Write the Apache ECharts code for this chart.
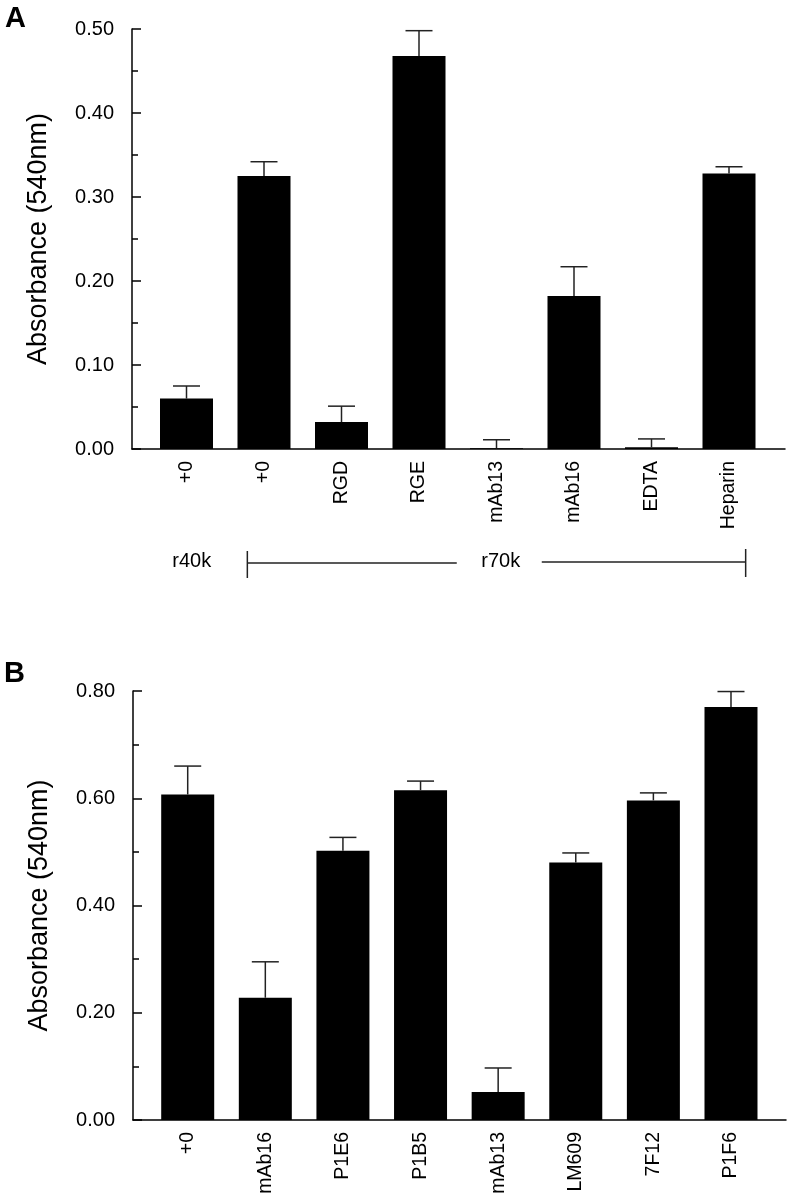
<!DOCTYPE html>
<html>
<head>
<meta charset="utf-8">
<script src="https://cdn.jsdelivr.net/npm/echarts@6/dist/echarts.min.js"></script>
<style>
html,body{margin:0;padding:0;background:#fff;}
#main{width:793px;height:1199px;}
</style>
</head>
<body>
<div id="main"></div>
<script>
// ---- Data ----
const categoriesA = ['+0', '+0', 'RGD', 'RGE', 'mAb13', 'mAb16', 'EDTA', 'Heparin'];
const meanA = [0.060, 0.325, 0.032, 0.468, 0.001, 0.182, 0.002, 0.328];
const errA  = [0.015, 0.017, 0.019, 0.030, 0.010, 0.035, 0.010, 0.008];

const categoriesB = ['+0', 'mAb16', 'P1E6', 'P1B5', 'mAb13', 'LM609', '7F12', 'P1F6'];
const meanB = [0.607, 0.228, 0.502, 0.615, 0.052, 0.480, 0.596, 0.770];
const errB  = [0.053, 0.067, 0.025, 0.017, 0.045, 0.018, 0.014, 0.029];

const yTicksA = {min: 0, max: 0.5, interval: 0.1};
const yTicksB = {min: 0, max: 0.8, interval: 0.2};
const yTitle = 'Absorbance (540nm)';
const groupLabels = ['r40k', 'r70k'];

// ---- Styles ----
const FONT = 'Liberation Sans';
const AXIS_COLOR = '#000';

function frameY(gridIndex, t) {
  return {
    type: 'value', gridIndex: gridIndex, min: t.min, max: t.max, interval: t.interval,
    name: yTitle, nameLocation: 'middle', nameRotate: 90, nameGap: 80,
    nameTextStyle: {fontFamily: FONT, fontSize: 27, color: '#000'},
    axisLine: {show: true, lineStyle: {color: AXIS_COLOR, width: 1.5}},
    axisTick: {show: true, inside: true, length: 9, lineStyle: {color: AXIS_COLOR, width: 1.5}},
    minorTick: {show: true, splitNumber: 2, length: 6, lineStyle: {color: AXIS_COLOR, width: 1.5}},
    axisLabel: {show: true, margin: 18, fontFamily: FONT, fontSize: 20, color: '#000',
      formatter: v => v.toFixed(2)},
    splitLine: {show: false}, minorSplitLine: {show: false}
  };
}
function hiddenY(gridIndex, t) {
  return {type: 'value', gridIndex: gridIndex, min: t.min, max: t.max, interval: t.interval,
    axisLine: {show: false}, axisTick: {show: false}, axisLabel: {show: false}, splitLine: {show: false}};
}
function frameX(gridIndex) {
  return {type: 'value', gridIndex: gridIndex, min: 0, max: 1,
    axisLine: {show: true, onZero: false, lineStyle: {color: AXIS_COLOR, width: 1.5}},
    axisTick: {show: false}, axisLabel: {show: false}, splitLine: {show: false}};
}
function catX(gridIndex, cats) {
  return {type: 'category', gridIndex: gridIndex, data: cats, boundaryGap: true,
    axisLine: {show: false}, axisTick: {show: false}, splitLine: {show: false},
    axisLabel: {interval: 0, rotate: 90, margin: 12, padding: [12, 0, 0, 0],
      fontFamily: FONT, fontSize: 19.5, color: '#000'}};
}
function barSeries(axisIdx, means) {
  return {type: 'bar', xAxisIndex: axisIdx, yAxisIndex: axisIdx, data: means,
    barWidth: 53, itemStyle: {color: '#000'}, silent: true, z: 2};
}
function errSeries(axisIdx, means, errs) {
  return {
    type: 'custom', xAxisIndex: axisIdx, yAxisIndex: axisIdx, z: 3, silent: true,
    data: means.map((m, i) => [i, m, m + errs[i]]),
    encode: {x: 0, y: [1, 2]},
    renderItem: function (params, api) {
      const i = api.value(0);
      const lo = api.coord([i, api.value(1)]);
      const hi = api.coord([i, api.value(2)]);
      const half = 13.5;
      const st = {stroke: '#222', lineWidth: 1.5};
      return {type: 'group', children: [
        {type: 'line', shape: {x1: lo[0], y1: lo[1], x2: hi[0], y2: hi[1]}, style: st},
        {type: 'line', shape: {x1: hi[0] - half, y1: hi[1], x2: hi[0] + half, y2: hi[1]}, style: st}
      ]};
    }
  };
}

const chart = echarts.init(document.getElementById('main'), null, {renderer: 'canvas'});
chart.setOption({
  animation: false,
  backgroundColor: '#fff',
  grid: [
    {left: 132, right: 8, top: 29, bottom: 750, outerBoundsMode: 'none'},
    {left: 147.75, right: 25.25, top: 29, bottom: 750, outerBoundsMode: 'none'},
    {left: 133, right: 7, top: 691, bottom: 79, outerBoundsMode: 'none'},
    {left: 148.9, right: 23.2, top: 691, bottom: 79, outerBoundsMode: 'none'}
  ],
  xAxis: [frameX(0), catX(1, categoriesA), frameX(2), catX(3, categoriesB)],
  yAxis: [frameY(0, yTicksA), hiddenY(1, yTicksA), frameY(2, yTicksB), hiddenY(3, yTicksB)],
  series: [
    barSeries(1, meanA), errSeries(1, meanA, errA),
    barSeries(3, meanB), errSeries(3, meanB, errB)
  ]
});

// ---- Annotations: panel letters and the r40k / r70k bracket ----
const px = i => chart.convertToPixel({gridIndex: 1}, [i, 0])[0];
const band = px(1) - px(0);
const r40x = px(0) + 0.067 * band;
const r70x = px(4) + 0.055 * band;
const bLeft = px(1) - 0.215 * band;
const bRight = px(7) + 0.215 * band;
const yLine = 563, yText = 561;
const lineSt = {stroke: '#222', lineWidth: 1.5};
chart.setOption({
  graphic: [
    {type: 'text', left: 5, top: 4, style: {text: 'A', font: 'bold 29px "Liberation Sans"', fill: '#000'}},
    {type: 'text', left: 4, top: 659, style: {text: 'B', font: 'bold 29px "Liberation Sans"', fill: '#000'}},
    {type: 'text', x: r40x, y: yText, style: {text: groupLabels[0], font: '20px "Liberation Sans"', fill: '#000', align: 'center', verticalAlign: 'middle'}},
    {type: 'text', x: r70x, y: yText, style: {text: groupLabels[1], font: '20px "Liberation Sans"', fill: '#000', align: 'center', verticalAlign: 'middle'}},
    {type: 'line', shape: {x1: bLeft, y1: yLine, x2: r70x - 44, y2: yLine}, style: lineSt},
    {type: 'line', shape: {x1: r70x + 41, y1: yLine - 1, x2: bRight, y2: yLine - 1}, style: lineSt},
    {type: 'line', shape: {x1: bLeft, y1: yLine - 12, x2: bLeft, y2: yLine + 15}, style: lineSt},
    {type: 'line', shape: {x1: bRight, y1: yLine - 14, x2: bRight, y2: yLine + 14}, style: lineSt}
  ]
});
</script>
</body>
</html>
